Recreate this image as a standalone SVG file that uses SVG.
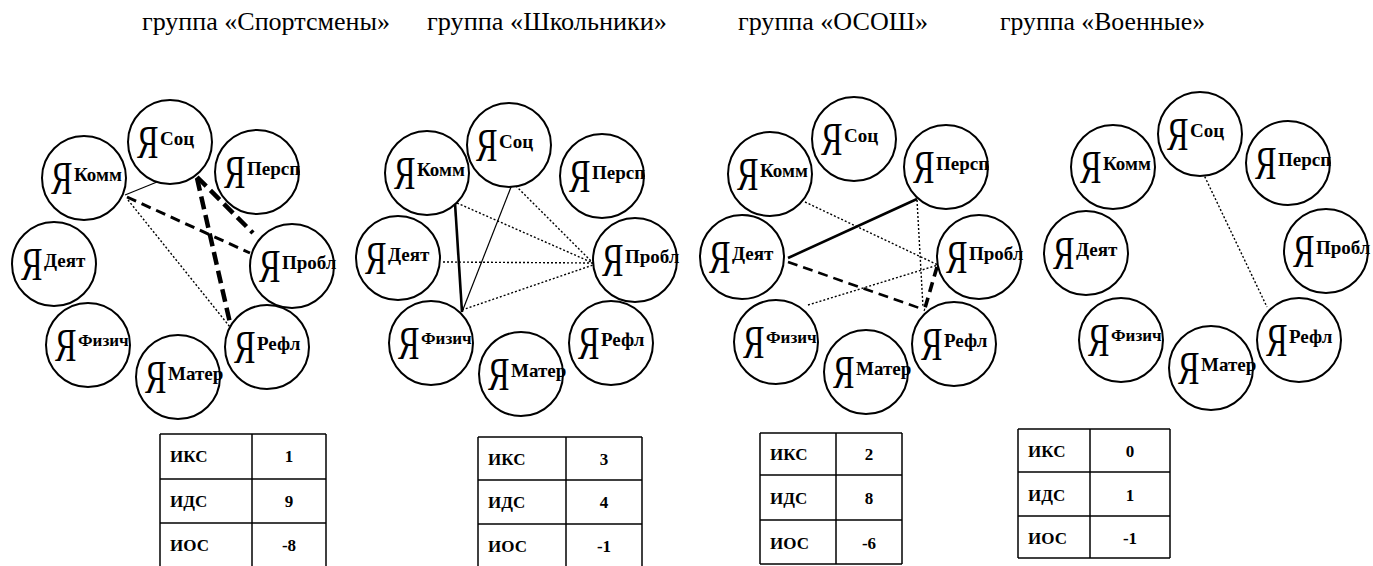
<svg xmlns="http://www.w3.org/2000/svg" width="1373" height="566" viewBox="0 0 1373 566">
<style>
text{font-family:"Liberation Serif","Times New Roman",serif;fill:#000}
.title{font-size:25px}
.node circle{fill:#fff;stroke:#000;stroke-width:2}
.ya{font-size:46px}
.lbl{font-size:19px;font-weight:bold}
.sm{font-size:17px}
.conn line{stroke:#000;fill:none}
.thin{stroke-width:1.2}
.med{stroke-width:2.6}
.dot{stroke-width:1.4;stroke-dasharray:2 2}
.dash{stroke-width:3;stroke-dasharray:10 6}
.heavy{stroke-width:4.5;stroke-dasharray:13 6}
.tbl line{stroke:#000;stroke-width:1.5}
.tbl text{font-size:17px;font-weight:bold}
.val{text-anchor:middle}
</style>
<rect width="1373" height="566" fill="#fff"/>

<g id="titles">
<text class="title" x="142" y="30" textLength="248" lengthAdjust="spacingAndGlyphs">группа «Спортсмены»</text>
<text class="title" x="427" y="30" textLength="240" lengthAdjust="spacingAndGlyphs">группа «Школьники»</text>
<text class="title" x="738" y="30" textLength="190" lengthAdjust="spacingAndGlyphs">группа «ОСОШ»</text>
<text class="title" x="1000" y="30" textLength="205" lengthAdjust="spacingAndGlyphs">группа «Военные»</text>
</g>

<g id="connectors" class="conn">
<line class="thin" x1="125" y1="195" x2="157" y2="182"/>
<line class="dash" x1="127" y1="197" x2="250" y2="253"/>
<line class="dot" x1="128" y1="200" x2="230" y2="327"/>
<line class="heavy" x1="197" y1="177" x2="253" y2="233"/>
<line class="heavy" x1="197" y1="178" x2="230" y2="323"/>
<line class="med" x1="455" y1="203" x2="462" y2="312"/>
<line class="thin" x1="513" y1="182" x2="462" y2="312"/>
<line class="dot" x1="513" y1="183" x2="593" y2="263"/>
<line class="dot" x1="457" y1="203" x2="593" y2="263"/>
<line class="dot" x1="443" y1="262" x2="593" y2="263"/>
<line class="dot" x1="462" y1="310" x2="593" y2="265"/>
<line class="med" x1="788" y1="258" x2="917" y2="199"/>
<line class="dash" style="stroke-width:2.6" x1="788" y1="262" x2="925" y2="310"/>
<line class="dash" style="stroke-width:3.6" x1="937" y1="267" x2="925" y2="308"/>
<line class="dot" x1="805" y1="202" x2="938" y2="265"/>
<line class="dot" x1="917" y1="200" x2="923" y2="307"/>
<line class="dot" x1="808" y1="305" x2="938" y2="265"/>
<line class="dot" x1="1203" y1="173" x2="1267" y2="307"/>
</g>

<g id="g1-soc" class="node" transform="translate(170,142)"><circle r="42"/><text class="ya" transform="translate(-33,16) scale(0.7,1)">Я</text><text class="lbl" x="-10" y="3">Соц</text></g>
<g id="g1-persp" class="node" transform="translate(257,172)"><circle r="42"/><text class="ya" transform="translate(-33,16) scale(0.7,1)">Я</text><text class="lbl" x="-10" y="3">Персп</text></g>
<g id="g1-komm" class="node" transform="translate(84,178)"><circle r="42"/><text class="ya" transform="translate(-33,16) scale(0.7,1)">Я</text><text class="lbl" x="-10" y="3">Комм</text></g>
<g id="g1-probl" class="node" transform="translate(292,266)"><circle r="42"/><text class="ya" transform="translate(-33,16) scale(0.7,1)">Я</text><text class="lbl" x="-10" y="3">Пробл</text></g>
<g id="g1-deyat" class="node" transform="translate(54,264)"><circle r="42"/><text class="ya" transform="translate(-33,16) scale(0.7,1)">Я</text><text class="lbl" x="-10" y="3">Деят</text></g>
<g id="g1-fizich" class="node" transform="translate(88,345)"><circle r="42"/><text class="ya" transform="translate(-33,16) scale(0.7,1)">Я</text><text class="lbl sm" x="-10" y="1">Физич</text></g>
<g id="g1-mater" class="node" transform="translate(178,377)"><circle r="42"/><text class="ya" transform="translate(-33,16) scale(0.7,1)">Я</text><text class="lbl" x="-10" y="3">Матер</text></g>
<g id="g1-refl" class="node" transform="translate(267,347)"><circle r="42"/><text class="ya" transform="translate(-33,16) scale(0.7,1)">Я</text><text class="lbl" x="-10" y="3">Рефл</text></g>

<g id="g2-soc" class="node" transform="translate(509,145)"><circle r="42"/><text class="ya" transform="translate(-33,16) scale(0.7,1)">Я</text><text class="lbl" x="-10" y="3">Соц</text></g>
<g id="g2-persp" class="node" transform="translate(602,176)"><circle r="42"/><text class="ya" transform="translate(-33,16) scale(0.7,1)">Я</text><text class="lbl" x="-10" y="3">Персп</text></g>
<g id="g2-komm" class="node" transform="translate(427,173)"><circle r="42"/><text class="ya" transform="translate(-33,16) scale(0.7,1)">Я</text><text class="lbl" x="-10" y="3">Комм</text></g>
<g id="g2-probl" class="node" transform="translate(635,260)"><circle r="42"/><text class="ya" transform="translate(-33,16) scale(0.7,1)">Я</text><text class="lbl" x="-10" y="3">Пробл</text></g>
<g id="g2-deyat" class="node" transform="translate(398,258)"><circle r="42"/><text class="ya" transform="translate(-33,16) scale(0.7,1)">Я</text><text class="lbl" x="-10" y="3">Деят</text></g>
<g id="g2-fizich" class="node" transform="translate(431,343)"><circle r="42"/><text class="ya" transform="translate(-33,16) scale(0.7,1)">Я</text><text class="lbl sm" x="-10" y="1">Физич</text></g>
<g id="g2-mater" class="node" transform="translate(521,374)"><circle r="42"/><text class="ya" transform="translate(-33,16) scale(0.7,1)">Я</text><text class="lbl" x="-10" y="3">Матер</text></g>
<g id="g2-refl" class="node" transform="translate(611,343)"><circle r="42"/><text class="ya" transform="translate(-33,16) scale(0.7,1)">Я</text><text class="lbl" x="-10" y="3">Рефл</text></g>

<g id="g3-soc" class="node" transform="translate(854,139)"><circle r="42"/><text class="ya" transform="translate(-33,16) scale(0.7,1)">Я</text><text class="lbl" x="-10" y="3">Соц</text></g>
<g id="g3-persp" class="node" transform="translate(946,167)"><circle r="42"/><text class="ya" transform="translate(-33,16) scale(0.7,1)">Я</text><text class="lbl" x="-10" y="3">Персп</text></g>
<g id="g3-komm" class="node" transform="translate(770,174)"><circle r="42"/><text class="ya" transform="translate(-33,16) scale(0.7,1)">Я</text><text class="lbl" x="-10" y="3">Комм</text></g>
<g id="g3-probl" class="node" transform="translate(979,257)"><circle r="42"/><text class="ya" transform="translate(-33,16) scale(0.7,1)">Я</text><text class="lbl" x="-10" y="3">Пробл</text></g>
<g id="g3-deyat" class="node" transform="translate(742,257)"><circle r="42"/><text class="ya" transform="translate(-33,16) scale(0.7,1)">Я</text><text class="lbl" x="-10" y="3">Деят</text></g>
<g id="g3-fizich" class="node" transform="translate(776,342)"><circle r="42"/><text class="ya" transform="translate(-33,16) scale(0.7,1)">Я</text><text class="lbl sm" x="-10" y="1">Физич</text></g>
<g id="g3-mater" class="node" transform="translate(866,372)"><circle r="42"/><text class="ya" transform="translate(-33,16) scale(0.7,1)">Я</text><text class="lbl" x="-10" y="3">Матер</text></g>
<g id="g3-refl" class="node" transform="translate(954,344)"><circle r="42"/><text class="ya" transform="translate(-33,16) scale(0.7,1)">Я</text><text class="lbl" x="-10" y="3">Рефл</text></g>

<g id="g4-soc" class="node" transform="translate(1200,134)"><circle r="42"/><text class="ya" transform="translate(-33,16) scale(0.7,1)">Я</text><text class="lbl" x="-10" y="3">Соц</text></g>
<g id="g4-persp" class="node" transform="translate(1288,163)"><circle r="42"/><text class="ya" transform="translate(-33,16) scale(0.7,1)">Я</text><text class="lbl" x="-10" y="3">Персп</text></g>
<g id="g4-komm" class="node" transform="translate(1113,167)"><circle r="42"/><text class="ya" transform="translate(-33,16) scale(0.7,1)">Я</text><text class="lbl" x="-10" y="3">Комм</text></g>
<g id="g4-probl" class="node" transform="translate(1326,251)"><circle r="42"/><text class="ya" transform="translate(-33,16) scale(0.7,1)">Я</text><text class="lbl" x="-10" y="3">Пробл</text></g>
<g id="g4-deyat" class="node" transform="translate(1086,253)"><circle r="42"/><text class="ya" transform="translate(-33,16) scale(0.7,1)">Я</text><text class="lbl" x="-10" y="3">Деят</text></g>
<g id="g4-fizich" class="node" transform="translate(1121,340)"><circle r="42"/><text class="ya" transform="translate(-33,16) scale(0.7,1)">Я</text><text class="lbl sm" x="-10" y="1">Физич</text></g>
<g id="g4-mater" class="node" transform="translate(1211,368)"><circle r="42"/><text class="ya" transform="translate(-33,16) scale(0.7,1)">Я</text><text class="lbl" x="-10" y="3">Матер</text></g>
<g id="g4-refl" class="node" transform="translate(1299,340)"><circle r="42"/><text class="ya" transform="translate(-33,16) scale(0.7,1)">Я</text><text class="lbl" x="-10" y="3">Рефл</text></g>

<g id="table1" class="tbl">
<line x1="160" y1="434" x2="326" y2="434"/><line x1="160" y1="479" x2="326" y2="479"/><line x1="160" y1="523" x2="326" y2="523"/>
<line x1="160" y1="434" x2="160" y2="566"/><line x1="252" y1="434" x2="252" y2="566"/><line x1="326" y1="434" x2="326" y2="566"/>
<text x="170" y="462">ИКС</text><text class="val" x="289" y="462">1</text>
<text x="170" y="507">ИДС</text><text class="val" x="289" y="507">9</text>
<text x="170" y="551">ИОС</text><text class="val" x="289" y="551">-8</text>
</g>
<g id="table2" class="tbl">
<line x1="478" y1="437" x2="642" y2="437"/><line x1="478" y1="480" x2="642" y2="480"/><line x1="478" y1="524" x2="642" y2="524"/>
<line x1="478" y1="437" x2="478" y2="566"/><line x1="566" y1="437" x2="566" y2="566"/><line x1="642" y1="437" x2="642" y2="566"/>
<text x="488" y="465">ИКС</text><text class="val" x="604" y="465">3</text>
<text x="488" y="508">ИДС</text><text class="val" x="604" y="508">4</text>
<text x="488" y="552">ИОС</text><text class="val" x="604" y="552">-1</text>
</g>
<g id="table3" class="tbl">
<line x1="760" y1="433" x2="902" y2="433"/><line x1="760" y1="475" x2="902" y2="475"/><line x1="760" y1="520" x2="902" y2="520"/><line x1="760" y1="564" x2="902" y2="564"/>
<line x1="760" y1="433" x2="760" y2="564"/><line x1="836" y1="433" x2="836" y2="564"/><line x1="902" y1="433" x2="902" y2="564"/>
<text x="770" y="460">ИКС</text><text class="val" x="869" y="460">2</text>
<text x="770" y="504">ИДС</text><text class="val" x="869" y="504">8</text>
<text x="770" y="549">ИОС</text><text class="val" x="869" y="549">-6</text>
</g>
<g id="table4" class="tbl">
<line x1="1018" y1="429" x2="1170" y2="429"/><line x1="1018" y1="472" x2="1170" y2="472"/><line x1="1018" y1="516" x2="1170" y2="516"/><line x1="1018" y1="558" x2="1170" y2="558"/>
<line x1="1018" y1="429" x2="1018" y2="558"/><line x1="1090" y1="429" x2="1090" y2="558"/><line x1="1170" y1="429" x2="1170" y2="558"/>
<text x="1028" y="457">ИКС</text><text class="val" x="1130" y="457">0</text>
<text x="1028" y="501">ИДС</text><text class="val" x="1130" y="501">1</text>
<text x="1028" y="544">ИОС</text><text class="val" x="1130" y="544">-1</text>
</g>
</svg>
